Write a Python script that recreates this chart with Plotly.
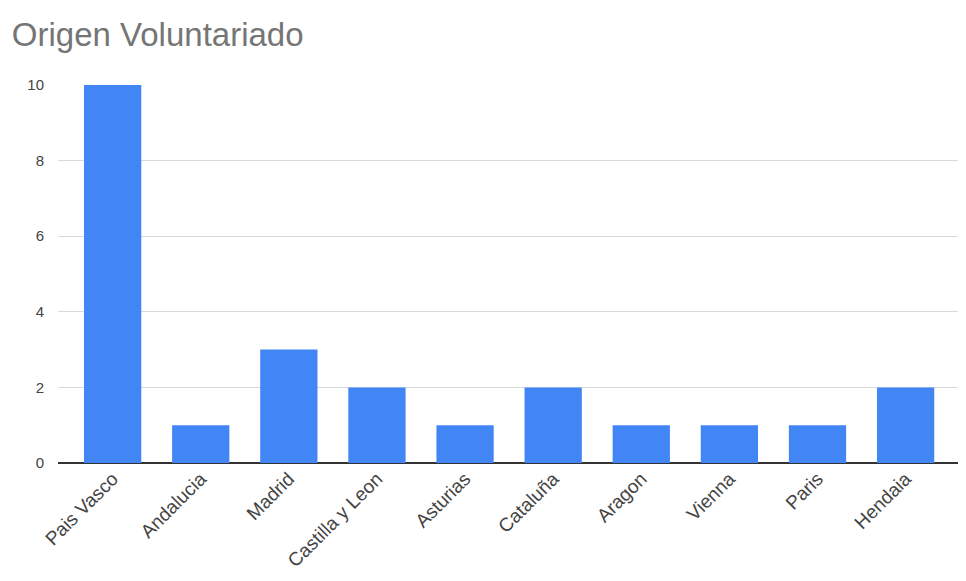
import plotly.graph_objects as go

categories = ["Pais Vasco", "Andalucia", "Madrid", "Castilla y Leon", "Asturias",
              "Cataluña", "Aragon", "Vienna", "Paris", "Hendaia"]
values = [10, 1, 3, 2, 1, 2, 1, 1, 1, 2]
y_ticks = [0, 2, 4, 6, 8, 10]

fig = go.Figure(go.Bar(x=categories, y=values, marker_color="#4285F4",
                       marker_line_width=0))

fig.update_layout(
    width=966, height=581,
    paper_bgcolor="white", plot_bgcolor="white",
    margin=dict(l=50, r=12, t=77, b=126),
    bargap=0.35,
    showlegend=False,
    title=dict(text="Origen Voluntariado", x=0.004, xanchor="left",
               y=0.955, yanchor="middle",
               font=dict(family="Liberation Sans, Arial", size=33, color="#757575")),
    font=dict(family="Liberation Sans, Arial", size=13, color="#444444"),
)
fig.update_xaxes(range=[-0.62, 9.64], tickangle=-45, showgrid=False, automargin=False,
                 showline=False, zeroline=False, tickfont=dict(size=19, color="#444444"))
fig.update_yaxes(range=[0, 10], tickvals=y_ticks, showgrid=True, gridcolor="#d9d9d9",
                 zeroline=True, zerolinecolor="#333333", zerolinewidth=2, automargin=False,
                 showline=False, ticklabelstandoff=13,
                 tickfont=dict(size=15, color="#444444"))

fig.write_html("out.html")
